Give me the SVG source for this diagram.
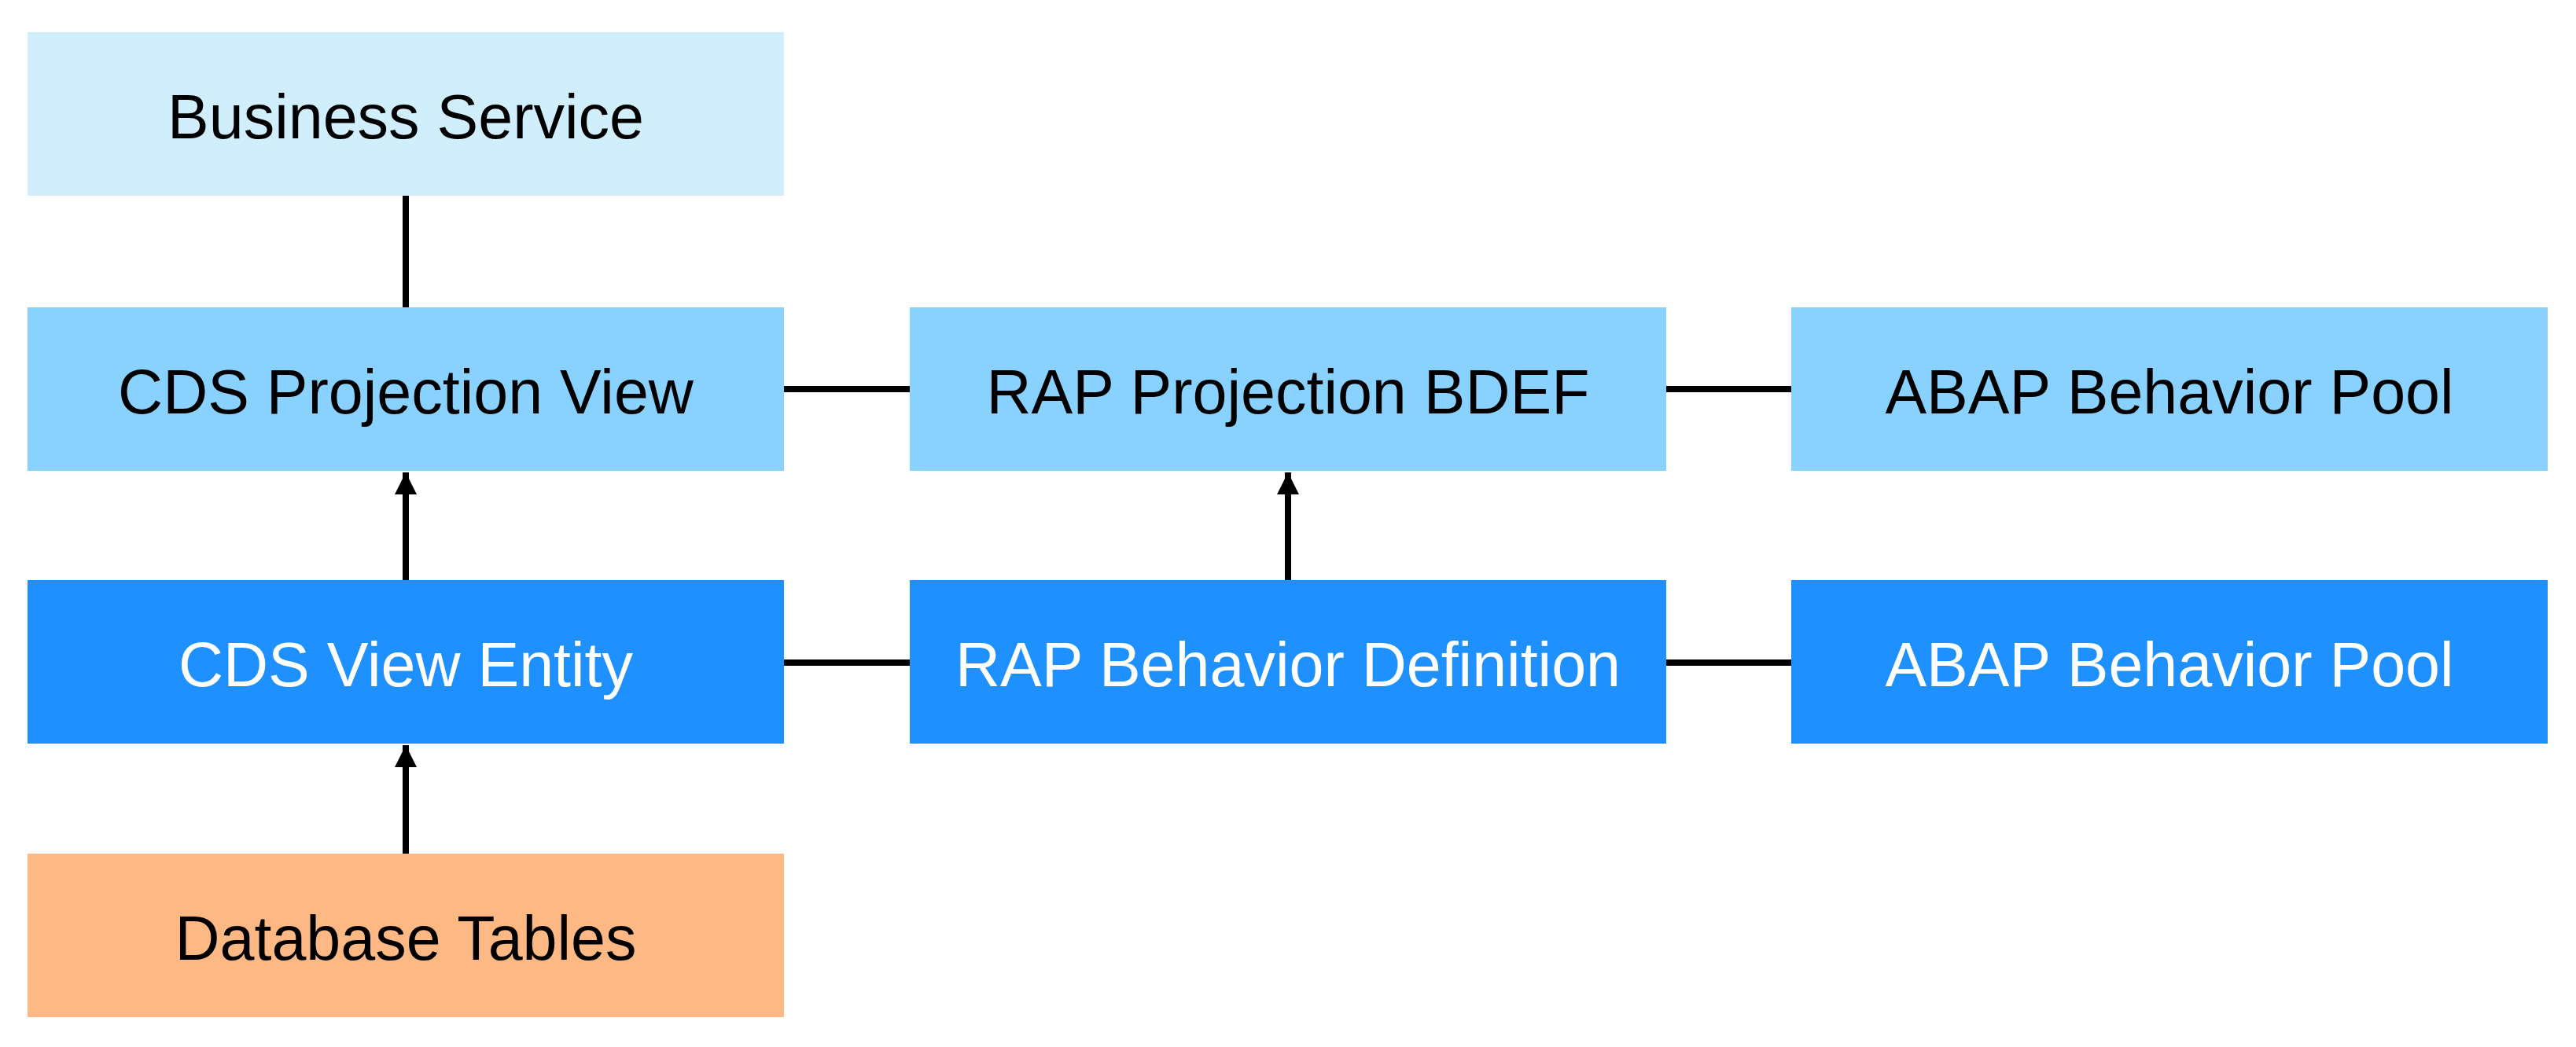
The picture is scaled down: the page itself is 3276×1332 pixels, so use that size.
<svg xmlns="http://www.w3.org/2000/svg" width="3276" height="1332" viewBox="0 0 3276 1332">
<style>
.lbl{font-family:"Liberation Sans",Arial,sans-serif;font-size:79px;text-anchor:middle}
.dk{fill:#000}
.wt{fill:#fff}
.c1{fill:#D1EEFD}
.c2{fill:#89D1FE}
.c3{fill:#1E90FF}
.c4{fill:#FDB883}
.edge{stroke:#000;stroke-width:8;fill:none}
</style>
<defs>
<marker id="ah" markerUnits="userSpaceOnUse" markerWidth="28" markerHeight="28" refX="28" refY="14" orient="auto">
<path d="M0,0 L28,14 L0,28 Z" fill="#000"/>
</marker>
</defs>
<rect width="3276" height="1332" fill="#fff"/>
<g id="connectors">
<line class="edge" x1="516" y1="249" x2="516" y2="391"/>
<line class="edge" x1="997" y1="495" x2="1157" y2="495"/>
<line class="edge" x1="2119" y1="495" x2="2278" y2="495"/>
<line class="edge" x1="997" y1="843" x2="1157" y2="843"/>
<line class="edge" x1="2119" y1="843" x2="2278" y2="843"/>
<line class="edge" x1="516" y1="738" x2="516" y2="601" marker-end="url(#ah)"/>
<line class="edge" x1="1638" y1="738" x2="1638" y2="601" marker-end="url(#ah)"/>
<line class="edge" x1="516" y1="1086" x2="516" y2="948" marker-end="url(#ah)"/>
</g>
<g id="business-service">
<rect class="c1" x="35" y="41" width="962" height="208"/>
<text class="lbl dk" x="516" y="176">Business Service</text>
</g>
<g id="cds-projection-view">
<rect class="c2" x="35" y="391" width="962" height="208"/>
<text class="lbl dk" x="516" y="526">CDS Projection View</text>
</g>
<g id="rap-projection-bdef">
<rect class="c2" x="1157" y="391" width="962" height="208"/>
<text class="lbl dk" x="1638" y="526">RAP Projection BDEF</text>
</g>
<g id="abap-behavior-pool-1">
<rect class="c2" x="2278" y="391" width="962" height="208"/>
<text class="lbl dk" x="2759" y="526">ABAP Behavior Pool</text>
</g>
<g id="cds-view-entity">
<rect class="c3" x="35" y="738" width="962" height="208"/>
<text class="lbl wt" x="516" y="873">CDS View Entity</text>
</g>
<g id="rap-behavior-definition">
<rect class="c3" x="1157" y="738" width="962" height="208"/>
<text class="lbl wt" x="1638" y="873">RAP Behavior Definition</text>
</g>
<g id="abap-behavior-pool-2">
<rect class="c3" x="2278" y="738" width="962" height="208"/>
<text class="lbl wt" x="2759" y="873">ABAP Behavior Pool</text>
</g>
<g id="database-tables">
<rect class="c4" x="35" y="1086" width="962" height="208"/>
<text class="lbl dk" x="516" y="1221">Database Tables</text>
</g>
</svg>
